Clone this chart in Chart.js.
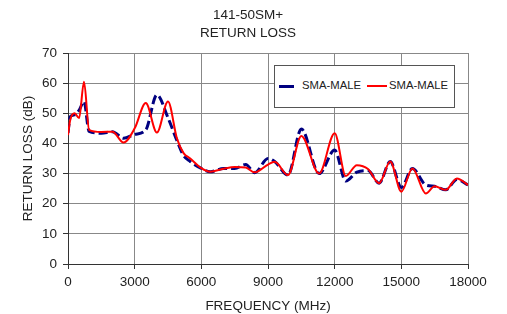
<!DOCTYPE html>
<html>
<head>
<meta charset="utf-8">
<script src="https://cdn.jsdelivr.net/npm/chart.js@4.4.0/dist/chart.umd.min.js"></script>
<style>
  body { margin: 0; background: #fff; font-family: "Liberation Sans", Arial, sans-serif; }
  #wrap { position: relative; width: 507px; height: 314px; }
  #title { position: absolute; left: 0; top: 6px; width: 496px; text-align: center;
           font-size: 13.5px; line-height: 18px; color: #222; }
  #legend { position: absolute; left: 274px; top: 65px; width: 179px; height: 41px;
            border: 1px solid #555; background: #fff; box-sizing: content-box; }
  #legend span { position: absolute; font-size: 11.3px; color: #222; top: 13px; }
  #legend i { position: absolute; display: block; }
</style>
</head>
<body>
<div id="wrap">
  <canvas id="mainChart" width="507" height="314"></canvas>
  <div id="title">141-50SM+<br>RETURN LOSS</div>
  <div id="legend">
    <i style="left:4px;top:19px;width:15px;height:3px;background:#000080"></i>
    <span style="left:27px">SMA-MALE</span>
    <i style="left:92px;top:19px;width:20px;height:2px;background:#ff0000"></i>
    <span style="left:114px">SMA-MALE</span>
  </div>
</div>
<script>
// frequency points (MHz) and return loss (dB)
const freqMHz = [0, 100, 300, 500, 720, 950, 1500, 2000, 2500, 3000, 3500, 4000, 4500, 4900, 5200, 5500,
  6000, 6400, 7000, 7500, 8000, 8400, 9000, 9300, 9900, 10500, 11300, 12000, 12500, 13000, 13500,
  14000, 14500, 15000, 15500, 16100, 16500, 17000, 17500, 18000];

const lossBlue = [43.5, 48.9, 49.5, 51, 53.9, 44, 43.4, 43.9, 41.7, 43, 44.5, 56.1, 48.5, 41, 36, 34,
  31.7, 30.6, 31.7, 31.7, 33, 30.3, 35, 34, 29.5, 44.8, 30, 37.8, 27.5, 30.5, 31,
  26.8, 34, 25.4, 31.7, 26.2, 25.8, 24.6, 28, 26.2];

const lossRed = [42.8, 47.8, 50, 48.4, 60.5, 44.5, 43.8, 43.9, 40.3, 45, 53.4, 43.6, 53.9, 41.7, 36.8, 35,
  31.8, 30.6, 31.6, 32.2, 32, 30.4, 33, 33.9, 29.5, 42.5, 30, 43.4, 29.2, 32.8, 31.5,
  26.8, 34, 24, 31.7, 23.4, 25.8, 24.6, 28.4, 26.2];

const seriesNames = ['SMA-MALE', 'SMA-MALE'];

const pts = arr => freqMHz.map((f, i) => ({ x: f, y: arr[i] }));
const tickFont = { family: '"Liberation Sans", Arial, sans-serif', size: 13.5 };

new Chart(document.getElementById('mainChart'), {
  type: 'line',
  data: {
    datasets: [
      {
        label: seriesNames[1],
        data: pts(lossRed),
        borderColor: '#ff0000',
        borderWidth: 2,
        pointRadius: 0,
        cubicInterpolationMode: 'monotone',
        order: 0
      },
      {
        label: seriesNames[0],
        data: pts(lossBlue),
        borderColor: '#000080',
        borderWidth: 3,
        borderDash: [9, 4],
        pointRadius: 0,
        cubicInterpolationMode: 'monotone',
        order: 1
      }
    ]
  },
  options: {
    responsive: false,
    animation: false,
    layout: { padding: { top: 53, right: 39, left: 0, bottom: 0 } },
    plugins: { legend: { display: false }, title: { display: false }, tooltip: { enabled: false } },
    scales: {
      x: {
        type: 'linear',
        min: 0, max: 18000,
        border: { color: '#333', width: 1 },
        grid: { color: '#888', tickLength: 5, tickColor: '#333' },
        ticks: { stepSize: 3000, color: '#222', font: tickFont, padding: 5, maxRotation: 0,
                 callback: v => String(v) },
        title: { display: true, text: 'FREQUENCY (MHz)', color: '#222', font: tickFont, padding: { top: 0, bottom: 0 } },
        afterFit: s => { s.height = 50; }
      },
      y: {
        min: 0, max: 70,
        border: { color: '#333', width: 1 },
        grid: { color: '#888', tickLength: 5, tickColor: '#333' },
        ticks: { stepSize: 10, color: '#222', font: tickFont, padding: 6, callback: v => String(v) },
        title: { display: true, text: 'RETURN LOSS (dB)', color: '#222', font: tickFont, padding: { top: 20, bottom: 0 } },
        afterFit: s => { s.width = 68; }
      }
    }
  }
});
</script>
</body>
</html>
